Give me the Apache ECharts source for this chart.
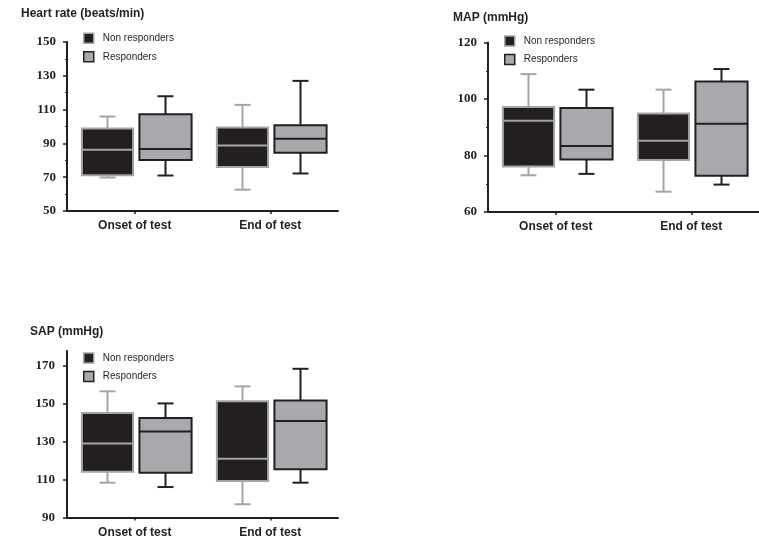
<!DOCTYPE html>
<html>
<head>
<meta charset="utf-8">
<script src="https://cdn.jsdelivr.net/npm/echarts@6/dist/echarts.min.js"></script>
<style>
html,body{margin:0;padding:0;background:#fff;}
#c{width:759px;height:546px;}
</style>
</head>
<body>
<div id="c"></div>
<script>
// ---- data (each row: [min, Q1, median, Q3, max]) ----
const categories = ['Onset of test', 'End of test'];
const seriesNames = ['Non responders', 'Responders'];

const hrNon  = [[69.8, 71.2, 86.3, 98.8, 105.9], [62.6, 76.1, 88.8, 99.4, 112.8]];
const hrResp = [[71.0, 80.2, 86.7, 107.3, 117.9], [72.2, 84.5, 92.8, 100.8, 127.0]];

const mapNon  = [[73.0, 76.1, 92.3, 97.2, 108.8], [67.2, 78.4, 85.2, 94.9, 103.3]];
const mapResp = [[73.5, 78.6, 83.4, 96.8, 103.3], [69.7, 72.8, 91.2, 106.2, 110.6]];

const sapNon  = [[108.4, 114.2, 129.1, 145.2, 156.7], [97.0, 109.3, 121.1, 151.4, 159.3]];
const sapResp = [[106.1, 113.7, 135.5, 142.6, 150.3], [108.4, 115.5, 141.0, 151.9, 168.6]];

const hrTicks  = [50, 70, 90, 110, 130, 150];
const mapTicks = [60, 80, 100, 120];
const sapTicks = [90, 110, 130, 150, 170];

const titles = ['Heart rate (beats/min)', 'MAP (mmHg)', 'SAP (mmHg)'];

// ---- styles ----
const DARK = '#231f20';
const GREY = '#a7a9ac';
const GREY_LINE = '#a3a5a8';

function rows(arr) { return arr.map((r, i) => [i].concat(r)); }

function makeRender(offsetFrac, widthFrac, fill, stroke) {
  return function (params, api) {
    const idx = api.value(0);
    const lo = api.coord([idx, api.value(1)]);
    const q1 = api.coord([idx, api.value(2)]);
    const md = api.coord([idx, api.value(3)]);
    const q3 = api.coord([idx, api.value(4)]);
    const hi = api.coord([idx, api.value(5)]);
    const band = api.size([1, 0])[0];
    const cx = Math.round(lo[0] + band * offsetFrac) + 0.5;
    const w = band * widthFrac;
    const cap = 8;
    const ls = { stroke: stroke, lineWidth: 2, fill: null };
    return {
      type: 'group',
      children: [
        { type: 'line', shape: { x1: cx, y1: q3[1], x2: cx, y2: hi[1] }, style: ls },
        { type: 'line', shape: { x1: cx - cap, y1: hi[1], x2: cx + cap, y2: hi[1] }, style: ls },
        { type: 'line', shape: { x1: cx, y1: q1[1], x2: cx, y2: lo[1] }, style: ls },
        { type: 'line', shape: { x1: cx - cap, y1: lo[1], x2: cx + cap, y2: lo[1] }, style: ls },
        { type: 'rect', shape: { x: cx - w / 2, y: q3[1], width: w, height: q1[1] - q3[1] },
          style: { fill: fill, stroke: stroke, lineWidth: 2 } },
        { type: 'line', shape: { x1: cx - w / 2, y1: md[1], x2: cx + w / 2, y2: md[1] }, style: ls }
      ]
    };
  };
}

const grids = [
  { left: 67, top: 42, width: 271, height: 169 },
  { left: 488, top: 42.5, width: 273, height: 169.5 },
  { left: 67, top: 351, width: 271, height: 166.5 }
];
const yDefs = [
  { min: 50, max: 150, ticks: hrTicks, minor: true, margin: 11 },
  { min: 60, max: 120, ticks: mapTicks, minor: true, margin: 11 },
  { min: 90, max: 178, ticks: sapTicks, minor: false, margin: 12 }
];
const dataSets = [[hrNon, hrResp], [mapNon, mapResp], [sapNon, sapResp]];
const titlePos = [{ left: 21, top: 8 }, { left: 453, top: 12 }, { left: 30, top: 326 }];
const legendPos = [{ left: 83, top: 32.5 }, { left: 504, top: 35.3 }, { left: 83, top: 352.3 }];

const option = {
  backgroundColor: '#fff',
  animation: false,
  title: titles.map((t, i) => ({
    text: t, left: titlePos[i].left, top: titlePos[i].top, padding: 0,
    textStyle: { fontFamily: 'Liberation Sans', fontSize: 12, fontWeight: 'bold', color: DARK }
  })),
  legend: legendPos.map(p => ({
    left: p.left, top: p.top, orient: 'vertical', padding: 0,
    itemWidth: 10, itemHeight: 10, itemGap: 7,
    selectedMode: false,
    textStyle: { fontFamily: 'Liberation Sans', fontSize: 10, color: DARK, lineHeight: 10, padding: [0, 0, 0, 4] },
    data: [
      { name: seriesNames[0], icon: 'rect', itemStyle: { color: DARK, borderColor: GREY_LINE, borderWidth: 1.5 } },
      { name: seriesNames[1], icon: 'rect', itemStyle: { color: GREY, borderColor: DARK, borderWidth: 1.5 } }
    ]
  })),
  grid: grids,
  xAxis: grids.map((g, i) => ({
    type: 'category', gridIndex: i, data: categories, boundaryGap: true,
    axisLine: { lineStyle: { color: DARK, width: 2 } },
    axisTick: { show: true, alignWithLabel: true, length: 3, lineStyle: { color: DARK, width: 1.5 } },
    axisLabel: { margin: 9, fontFamily: 'Liberation Sans', fontSize: 12, fontWeight: 'bold', color: DARK },
    splitLine: { show: false }
  })),
  yAxis: yDefs.map((d, i) => ({
    type: 'value', gridIndex: i, min: d.min, max: d.max, interval: 20,
    axisLine: { show: true, lineStyle: { color: DARK, width: 2 } },
    axisTick: { show: true, length: 4, customValues: d.ticks, lineStyle: { color: DARK, width: 1.5 } },
    minorTick: { show: d.minor, splitNumber: 2, length: 2, lineStyle: { color: DARK, width: 1.2 } },
    axisLabel: { customValues: d.ticks, margin: d.margin, fontFamily: 'Liberation Serif', fontSize: 13, fontWeight: 'bold', color: DARK },
    splitLine: { show: false }
  })),
  series: []
};

dataSets.forEach((pair, gi) => {
  option.series.push({
    type: 'custom', name: seriesNames[0], xAxisIndex: gi, yAxisIndex: gi,
    itemStyle: { color: DARK },
    encode: { x: 0, y: [1, 2, 3, 4, 5] },
    renderItem: makeRender(-0.207, 0.378, DARK, GREY_LINE),
    data: rows(pair[0])
  });
  option.series.push({
    type: 'custom', name: seriesNames[1], xAxisIndex: gi, yAxisIndex: gi,
    itemStyle: { color: GREY },
    encode: { x: 0, y: [1, 2, 3, 4, 5] },
    renderItem: makeRender(0.222, 0.385, GREY, DARK),
    data: rows(pair[1])
  });
});

const chart = echarts.init(document.getElementById('c'), null, { renderer: 'canvas' });
chart.setOption(option);
</script>
</body>
</html>
